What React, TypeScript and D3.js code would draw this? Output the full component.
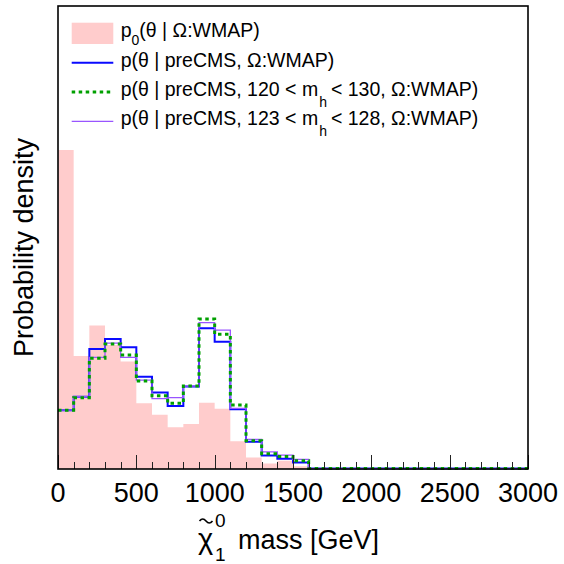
import React from "react";
import * as d3 from "d3";

// 30 bins of 100 GeV from 0 to 3000 (arbitrary density units)
const binLow = 0;
const binWidth = 100;
const nBins = 30;

const prior = [0.689, 0.244, 0.31, 0.268, 0.232, 0.142, 0.117, 0.09, 0.097, 0.143, 0.13, 0.06, 0.025, 0.012, 0.018, 0.006,
  0, 0, 0, 0, 0, 0, 0, 0, 0, 0, 0, 0, 0, 0];
const preCMS = [0.127, 0.156, 0.259, 0.281, 0.263, 0.199, 0.165, 0.136, 0.178, 0.304, 0.275, 0.129, 0.059, 0.029, 0.022, 0.014,
  0.001, 0.001, 0.001, 0.001, 0.001, 0.001, 0.001, 0.001, 0.001, 0.001, 0.001, 0.001, 0.001, 0.001];
const mh120130 = [0.127, 0.154, 0.239, 0.27, 0.246, 0.19, 0.158, 0.142, 0.179, 0.324, 0.291, 0.138, 0.061, 0.033, 0.027, 0.018,
  0.001, 0.001, 0.001, 0.001, 0.001, 0.001, 0.001, 0.001, 0.001, 0.001, 0.001, 0.001, 0.001, 0.001];
const mh123128 = [0.127, 0.156, 0.241, 0.272, 0.241, 0.192, 0.152, 0.154, 0.179, 0.316, 0.3, 0.131, 0.064, 0.037, 0.03, 0.021,
  0.001, 0.001, 0.001, 0.001, 0.001, 0.001, 0.001, 0.001, 0.001, 0.001, 0.001, 0.001, 0.001, 0.001];

const xTicks = [0, 500, 1000, 1500, 2000, 2500, 3000];

const FONT = "'Liberation Sans', Arial, Helvetica, sans-serif";

const W = 564, H = 564;
const L = 58, R = 528, T = 6, B = 469;

export default function App() {
  const x = d3.scaleLinear().domain([0, 3000]).range([L, R]);
  const y = d3.scaleLinear().domain([0, 1]).range([B, T]);

  const toPts = (vals: number[]) => {
    const pts = vals.map((v, i) => ({ x: binLow + i * binWidth, v }));
    pts.push({ x: binLow + nBins * binWidth, v: vals[vals.length - 1] });
    return pts;
  };

  const area = d3
    .area<{ x: number; v: number }>()
    .x((d) => x(d.x))
    .y0(y(0))
    .y1((d) => y(d.v))
    .curve(d3.curveStepAfter);

  const line = d3
    .line<{ x: number; v: number }>()
    .x((d) => x(d.x))
    .y((d) => y(d.v))
    .curve(d3.curveStepAfter);

  const minor = d3.range(0, 3001, 100);

  const legX1 = 71.7, legX2 = 113.3, legTx = 120.7;
  const rows = [33.3, 62.7, 92, 121.3];
  const lf = 19.5;

  return (
    <svg width={W} height={H} style={{ position: "absolute", left: 0, top: 0, background: "#fff" }} fontFamily={FONT}>
      <rect x={0} y={0} width={W} height={H} fill="#fff" />
      <path d={area(toPts(prior)) || ""} fill="#ffcccc" stroke="none" />
      <path d={line(toPts(preCMS)) || ""} fill="none" stroke="#0a0aff" strokeWidth={2} />
      <path d={line(toPts(mh123128)) || ""} fill="none" stroke="#9955ff" strokeWidth={1.3} />
      <path d={line(toPts(mh120130)) || ""} fill="none" stroke="#00a000" strokeWidth={3} strokeDasharray="3.5,3.5" />

      {/* ticks */}
      {minor.map((t) => {
        const major = t % 500 === 0;
        const xx = Math.round(x(t)) + 0.5;
        return <line key={t} x1={xx} x2={xx} y1={B} y2={B - (major ? 14 : 7)} stroke="#222" strokeWidth={1} />;
      })}

      {/* frame */}
      <rect x={L} y={T} width={R - L} height={B - T} fill="none" stroke="#000" strokeWidth={1.6} />

      {/* tick labels */}
      {xTicks.map((t) => (
        <text key={t} x={x(t)} y={502} fontSize={27} textAnchor="middle" fill="#000">
          {t}
        </text>
      ))}

      {/* x title: tilde accent over chi */}
      <path d="M199.5,521 q3.2,-4 6.5,0 t6.5,0" fill="none" stroke="#000" strokeWidth={1.6} />
      <text x={198} y={549} fontSize={29} fill="#000">χ</text>
      <text x={215} y={527} fontSize={19} fill="#000">0</text>
      <text x={215} y={561} fontSize={19} fill="#000">1</text>
      <text x={238} y={549} fontSize={27} fill="#000">mass [GeV]</text>

      {/* y title */}
      <text transform="translate(33,357) rotate(-90)" fontSize={27} fill="#000">
        Probability density
      </text>

      {/* legend */}
      <rect x={legX1} y={22.7} width={legX2 - legX1} height={21.3} fill="#ffcccc" />
      <text x={legTx} y={rows[0] + 4} fontSize={lf} fill="#000">
        p<tspan dy={8} fontSize={14}>0</tspan>
        <tspan dy={-8}>(θ | Ω:WMAP)</tspan>
      </text>

      <line x1={legX1} x2={legX2} y1={rows[1]} y2={rows[1]} stroke="#0a0aff" strokeWidth={2} />
      <text x={legTx} y={rows[1] + 4} fontSize={lf} fill="#000">
        p(θ | preCMS, Ω:WMAP)
      </text>

      <line x1={legX1} x2={legX2} y1={rows[2]} y2={rows[2]} stroke="#00a000" strokeWidth={3} strokeDasharray="3.5,3.5" />
      <text x={legTx} y={rows[2] + 4} fontSize={lf} fill="#000">
        p(θ | preCMS, 120 &lt; m<tspan dy={11} dx={1} fontSize={14}>h</tspan>
        <tspan dy={-11} dx={4}>&lt; 130, Ω:WMAP)</tspan>
      </text>

      <line x1={legX1} x2={legX2} y1={rows[3]} y2={rows[3]} stroke="#9955ff" strokeWidth={1.3} />
      <text x={legTx} y={rows[3] + 4} fontSize={lf} fill="#000">
        p(θ | preCMS, 123 &lt; m<tspan dy={11} dx={1} fontSize={14}>h</tspan>
        <tspan dy={-11} dx={4}>&lt; 128, Ω:WMAP)</tspan>
      </text>
    </svg>
  );
}
